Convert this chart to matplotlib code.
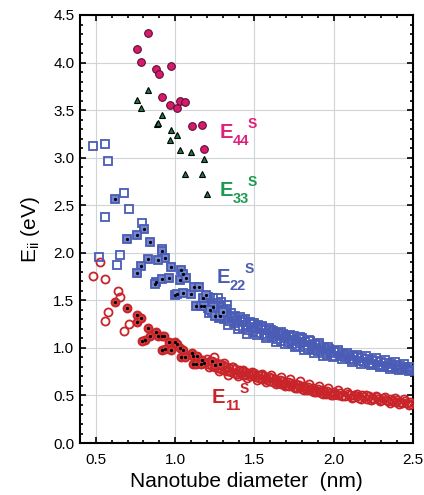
import matplotlib
matplotlib.use("Agg")
from matplotlib import pyplot as plt
from matplotlib.ticker import MultipleLocator

plt.rcParams['font.family'] = ['Liberation Sans', 'DejaVu Sans']
plt.rcParams['mathtext.fontset'] = 'custom'
plt.rcParams['mathtext.rm'] = 'Liberation Sans'
plt.rcParams['mathtext.it'] = 'Liberation Sans'
plt.rcParams['mathtext.bf'] = 'Liberation Sans:bold'

# E44 (magenta circles)
e44_d = [0.83, 0.758, 0.782, 0.882, 0.897, 0.977, 0.916, 0.966, 1.012, 1.033, 1.065, 1.104, 1.169, 1.182]
e44_e = [4.31, 4.14, 4.01, 3.93, 3.88, 3.96, 3.64, 3.55, 3.52, 3.60, 3.59, 3.33, 3.34, 3.09]

# E33 (green triangles)
e33_d = [0.758, 0.782, 0.828, 0.886, 0.89, 0.916, 0.974, 0.966, 1.012, 1.031, 1.102, 1.065, 1.169, 1.184, 1.20]
e33_e = [3.61, 3.52, 3.71, 3.35, 3.36, 3.45, 3.29, 3.19, 3.24, 3.08, 3.06, 2.83, 2.83, 2.99, 2.62]

# E22 open squares
e22_open_d = [0.484, 0.557, 0.574, 0.679, 0.706, 0.557, 0.794, 0.918, 0.521, 0.635, 0.652,
              1.21, 1.27, 1.29, 1.33,
              1.20, 1.21, 1.22, 1.23, 1.24, 1.25, 1.26, 1.27, 1.28, 1.29, 1.30, 1.31, 1.32, 1.33,
              1.34, 1.35, 1.36, 1.37, 1.38, 1.39, 1.40, 1.41, 1.42, 1.43, 1.44, 1.45, 1.46, 1.47,
              1.48, 1.49, 1.50, 1.51, 1.52, 1.53, 1.54, 1.55, 1.56, 1.57, 1.58, 1.59, 1.60, 1.61,
              1.62, 1.63, 1.64, 1.65, 1.66, 1.67, 1.68, 1.69, 1.70, 1.71, 1.72, 1.73, 1.74, 1.75,
              1.76, 1.77, 1.78, 1.79, 1.80, 1.81, 1.82, 1.83, 1.84, 1.85, 1.86, 1.87, 1.88, 1.89,
              1.90, 1.91, 1.92, 1.93, 1.94, 1.95, 1.96, 1.97, 1.98, 2.00, 2.01, 2.03, 2.04, 2.06,
              2.07, 2.09, 2.10, 2.12, 2.13, 2.15, 2.16, 2.18, 2.19, 2.21, 2.22, 2.24, 2.25, 2.27,
              2.28, 2.30, 2.31, 2.33, 2.34, 2.36, 2.37, 2.39, 2.40, 2.42, 2.43, 2.45, 2.46, 2.48, 2.49]
e22_open_e = [3.12, 3.14, 2.96, 2.63, 2.46, 2.38, 2.31, 2.04, 1.96, 1.87, 1.98,
              1.54, 1.52, 1.48, 1.45,
              1.50, 1.42, 1.46, 1.38, 1.52, 1.41, 1.47, 1.36, 1.43, 1.33, 1.39, 1.30, 1.41, 1.35,
              1.28, 1.37, 1.31, 1.26, 1.34, 1.29, 1.23, 1.32, 1.27, 1.21, 1.30, 1.24, 1.19, 1.27,
              1.22, 1.17, 1.26, 1.21, 1.24, 1.16, 1.20, 1.22, 1.15, 1.19, 1.13, 1.21, 1.16, 1.11,
              1.18, 1.14, 1.09, 1.16, 1.12, 1.07, 1.15, 1.10, 1.13, 1.06, 1.11, 1.08, 1.04, 1.12,
              1.07, 1.02, 1.09, 1.05, 1.10, 1.01, 1.06, 1.03, 0.99, 1.07, 1.02, 0.98, 1.04, 1.00,
              0.97, 1.03, 0.99, 0.95, 1.01, 0.97, 0.93, 0.99, 0.95, 0.97, 0.92, 0.96, 0.91, 0.94,
              0.90, 0.93, 0.88, 0.92, 0.87, 0.90, 0.86, 0.89, 0.85, 0.88, 0.84, 0.87, 0.83, 0.86,
              0.82, 0.85, 0.81, 0.84, 0.80, 0.83, 0.80, 0.82, 0.79, 0.81, 0.78, 0.80, 0.78, 0.80, 0.77]

# extra points filling the width of the dense bands
band2_d = [1.215, 1.245, 1.275, 1.305, 1.335, 1.365, 1.395, 1.425, 1.455, 1.485, 1.515,
           1.545, 1.575, 1.605, 1.635, 1.665, 1.695, 1.725, 1.755, 1.785, 1.815, 1.845,
           1.875, 1.905, 1.935, 1.965, 1.995, 2.025, 2.055, 2.085, 2.115, 2.145, 2.175,
           2.205, 2.235, 2.265, 2.295, 2.325, 2.355, 2.385, 2.415, 2.445, 2.475]
e22_band2_e = [1.37, 1.45, 1.31, 1.40, 1.24, 1.33, 1.20, 1.29, 1.15, 1.25, 1.14,
               1.23, 1.10, 1.19, 1.06, 1.17, 1.04, 1.14, 1.01, 1.11, 0.98, 1.08,
               0.95, 1.05, 0.92, 1.01, 0.90, 0.98, 0.88, 0.95, 0.85, 0.93, 0.83,
               0.91, 0.82, 0.89, 0.80, 0.87, 0.78, 0.85, 0.77, 0.83, 0.76]
e11_band2_e = [0.80, 0.90, 0.76, 0.84, 0.72, 0.80, 0.70, 0.77, 0.68, 0.75, 0.66,
               0.73, 0.64, 0.71, 0.62, 0.69, 0.60, 0.67, 0.58, 0.65, 0.56, 0.62,
               0.54, 0.60, 0.52, 0.58, 0.50, 0.56, 0.49, 0.54, 0.47, 0.52, 0.46,
               0.51, 0.45, 0.49, 0.44, 0.48, 0.42, 0.47, 0.41, 0.46, 0.40]

# E22 squares with black dot
e22_dot_d = [0.62, 0.804, 0.696, 0.757, 0.84, 0.92, 0.937, 0.893, 0.828, 0.782, 0.757, 0.977,
             1.04, 1.05, 0.882, 0.87, 0.918, 0.962, 1.031, 1.071, 0.997, 1.012, 1.05, 1.10,
             1.12, 1.15, 1.176, 1.197, 1.13, 1.16, 1.18, 1.24, 1.22, 1.25, 1.28, 1.30]
e22_dot_e = [2.57, 2.25, 2.14, 2.19, 2.11, 2.02, 1.95, 1.92, 1.93, 1.86, 1.79, 1.85,
             1.82, 1.78, 1.69, 1.67, 1.72, 1.73, 1.71, 1.74, 1.56, 1.57, 1.58, 1.57,
             1.64, 1.64, 1.52, 1.56, 1.44, 1.44, 1.44, 1.43, 1.40, 1.34, 1.34, 1.38]

# E11 open circles
e11_open_d = [0.484, 0.526, 0.557, 0.557, 0.574, 0.637, 0.652, 0.679, 0.706,
              1.20, 1.21, 1.22, 1.23, 1.24, 1.25, 1.26, 1.27, 1.28, 1.29, 1.30, 1.31, 1.32, 1.33,
              1.34, 1.35, 1.36, 1.37, 1.38, 1.39, 1.40, 1.41, 1.42, 1.43, 1.44, 1.45, 1.46, 1.47,
              1.48, 1.49, 1.50, 1.51, 1.52, 1.53, 1.54, 1.55, 1.56, 1.57, 1.58, 1.59, 1.60, 1.61,
              1.62, 1.63, 1.64, 1.65, 1.66, 1.67, 1.68, 1.69, 1.70, 1.71, 1.72, 1.73, 1.74, 1.75,
              1.76, 1.77, 1.78, 1.79, 1.80, 1.81, 1.82, 1.83, 1.84, 1.85, 1.86, 1.87, 1.88, 1.89,
              1.90, 1.91, 1.92, 1.93, 1.94, 1.95, 1.96, 1.97, 1.98, 2.00, 2.01, 2.03, 2.04, 2.06,
              2.07, 2.09, 2.10, 2.12, 2.13, 2.15, 2.16, 2.18, 2.19, 2.21, 2.22, 2.24, 2.25, 2.27,
              2.28, 2.30, 2.31, 2.33, 2.34, 2.36, 2.37, 2.39, 2.40, 2.42, 2.43, 2.45, 2.46, 2.48, 2.49]
e11_open_e = [1.76, 1.90, 1.72, 1.28, 1.38, 1.60, 1.54, 1.18, 1.25,
              0.88, 0.83, 0.86, 0.81, 0.85, 0.80, 0.84, 0.79, 0.83, 0.78, 0.82, 0.77, 0.80, 0.76,
              0.79, 0.75, 0.80, 0.74, 0.78, 0.73, 0.77, 0.74, 0.76, 0.72, 0.75, 0.71, 0.74, 0.70,
              0.73, 0.71, 0.74, 0.69, 0.72, 0.68, 0.71, 0.67, 0.70, 0.68, 0.66, 0.69, 0.65, 0.68,
              0.64, 0.67, 0.65, 0.63, 0.66, 0.62, 0.65, 0.63, 0.61, 0.64, 0.60, 0.63, 0.61, 0.59,
              0.62, 0.58, 0.61, 0.59, 0.57, 0.60, 0.58, 0.56, 0.59, 0.57, 0.55, 0.58, 0.56, 0.54,
              0.57, 0.55, 0.53, 0.56, 0.54, 0.52, 0.55, 0.53, 0.51, 0.54, 0.52, 0.50, 0.53, 0.51,
              0.49, 0.52, 0.50, 0.48, 0.51, 0.49, 0.47, 0.50, 0.48, 0.46, 0.49, 0.47, 0.46, 0.48,
              0.46, 0.45, 0.47, 0.45, 0.44, 0.46, 0.44, 0.43, 0.45, 0.43, 0.42, 0.44, 0.42, 0.43, 0.41]

# E11 circles with black dot
e11_dot_d = [0.62, 0.696, 0.757, 0.757, 0.782, 0.828, 0.84, 0.809, 0.79, 0.882, 0.893, 0.92,
             0.93, 0.918, 0.935, 0.977, 0.962, 0.997, 1.012, 1.031, 1.05, 1.04, 1.065, 1.106,
             1.11, 1.14, 1.17, 1.18, 1.11, 1.13, 1.16, 1.23, 1.25, 1.28]
e11_dot_e = [1.48, 1.42, 1.35, 1.27, 1.31, 1.21, 1.12, 1.08, 1.07, 1.17, 1.12, 1.12,
             1.12, 0.98, 0.99, 0.98, 1.06, 1.06, 1.04, 1.00, 0.98, 0.90, 0.90, 0.95,
             0.92, 0.92, 0.87, 0.84, 0.83, 0.83, 0.83, 0.86, 0.82, 0.83]

RED = '#c8242a'
BLUE = '#4a5cb5'
MAGENTA = '#e0207a'
GREEN = '#1e9a50'

fig = plt.figure(figsize=(4.24, 4.95), dpi=100)
ax = fig.add_axes([0.1887, 0.105, 0.7853, 0.8647])

ax.grid(True, which='major', color='#cfd4d8', lw=0.8, zorder=0)
ax.set_axisbelow(True)

ax.plot(e11_open_d, e11_open_e, 'o', ms=5.8, mfc='none', mec=RED, mew=1.3, zorder=3)
ax.plot(band2_d, e11_band2_e, 'o', ms=5.8, mfc='none', mec=RED, mew=1.3, zorder=3)
ax.plot(e11_dot_d, e11_dot_e, 'o', ms=5.8, mfc='#d04040', mec=RED, mew=1.3, zorder=4)
ax.plot(e11_dot_d, e11_dot_e, 'o', ms=2.3, mfc='black', mec='black', mew=0, zorder=5)

ax.plot(e22_open_d, e22_open_e, 's', ms=5.2, mfc='none', mec=BLUE, mew=1.3, zorder=3)
ax.plot(band2_d, e22_band2_e, 's', ms=5.2, mfc='none', mec=BLUE, mew=1.3, zorder=3)
ax.plot(e22_dot_d, e22_dot_e, 's', ms=5.2, mfc='#7585cc', mec=BLUE, mew=1.3, zorder=4)
ax.plot(e22_dot_d, e22_dot_e, 'o', ms=2.3, mfc='black', mec='black', mew=0, zorder=5)

ax.plot(e33_d, e33_e, '^', ms=5, mfc='#1a7a48', mec='black', mew=0.8, zorder=4)
ax.plot(e44_d, e44_e, 'o', ms=5.5, mfc='#d81a6e', mec='#5a1030', mew=0.8, zorder=4)


def band_label(x, y, sub, color):
    kw = dict(xycoords='data', textcoords='offset points', color=color,
              fontweight='bold', ha='left', va='baseline', zorder=6)
    ax.annotate('E', xy=(x, y), xytext=(0, 0), fontsize=14.5, **kw)
    ax.annotate(sub, xy=(x, y), xytext=(9.6, -5), fontsize=10.5, **kw)
    ax.annotate('S', xy=(x, y), xytext=(20, 7), fontsize=10, **kw)


band_label(1.28, 3.21, '44', MAGENTA)
band_label(1.28, 2.60, '33', GREEN)
band_label(1.26, 1.684, '22', BLUE)
band_label(1.23, 0.42, '11', RED)

ax.set_xlim(0.4, 2.5)
ax.set_ylim(0, 4.5)
ax.xaxis.set_major_locator(MultipleLocator(0.5))
ax.xaxis.set_minor_locator(MultipleLocator(0.1))
ax.yaxis.set_major_locator(MultipleLocator(0.5))
ax.yaxis.set_minor_locator(MultipleLocator(0.1))
ax.xaxis.set_major_formatter(plt.FuncFormatter(lambda v, p: f'{v:.1f}'))
ax.yaxis.set_major_formatter(plt.FuncFormatter(lambda v, p: f'{v:.1f}'))

ax.tick_params(which='both', direction='in', top=True, right=True, width=1.2, labelsize=11)
ax.tick_params(which='major', length=4.5)
ax.tick_params(which='minor', length=2.5)
ax.tick_params(axis='x', pad=7)
ax.tick_params(axis='y', pad=4)
for s in ax.spines.values():
    s.set_linewidth(1.5)

ax.set_xlabel('Nanotube diameter  (nm)', fontsize=15, labelpad=4)
ax.set_ylabel(r'E$_{\mathrm{ii}}$ (eV)', fontsize=15, labelpad=8)

fig.savefig('out.png', dpi=100)
